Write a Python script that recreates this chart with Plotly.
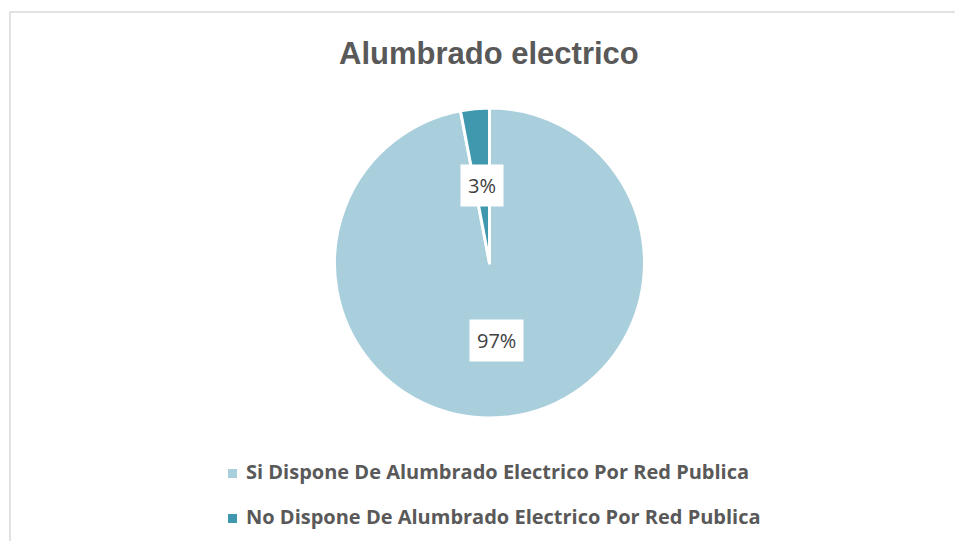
import math
import plotly.graph_objects as go

# Data
categories = [
    "Si Dispone De Alumbrado Electrico Por Red Publica",
    "No Dispone De Alumbrado Electrico Por Red Publica",
]
percentages = [97, 3]
colors = ["#a9cfdc", "#3f98ae"]
title_text = "Alumbrado electrico"

W, H = 955, 541


def px_x(px):
    return px / W


def px_y(py):
    return 1 - py / H


# Pie geometry (pixels)
cx, cy, R = 489.5, 263.0, 155.0

fig = go.Figure(
    go.Pie(
        labels=categories,
        values=percentages,
        sort=False,
        direction="clockwise",
        rotation=0,
        marker=dict(colors=colors, line=dict(color="white", width=3)),
        textinfo="none",
        hoverinfo="label+percent",
        showlegend=False,
        domain=dict(
            x=[px_x(cx - R - 10), px_x(cx + R + 10)],
            y=[px_y(cy + R), px_y(cy - R)],
        ),
    )
)

annotations = []

# Percentage labels placed at half radius along each slice's mid-angle
total = sum(percentages)
cum = 0.0
for v in percentages:
    mid = (cum + v / 2) / total * 2 * math.pi
    cum += v
    lx = cx + 0.5 * R * math.sin(mid)
    ly = cy - 0.5 * R * math.cos(mid)
    annotations.append(
        dict(
            x=px_x(lx), y=px_y(ly), xref="paper", yref="paper",
            text=f"{round(v / total * 100)}%", showarrow=False,
            font=dict(family="Open Sans", size=20, color="#404040"),
            bgcolor="white", borderpad=7,
            xanchor="center", yanchor="middle",
        )
    )

# Title
annotations.append(
    dict(
        x=px_x(489), y=px_y(53), xref="paper", yref="paper",
        text=f"<b>{title_text}</b>", showarrow=False,
        font=dict(family="Liberation Sans", size=31, color="#595959"),
        xanchor="center", yanchor="middle",
    )
)

shapes = [
    # chart frame
    dict(type="rect", xref="paper", yref="paper",
         x0=px_x(10), x1=px_x(980), y0=px_y(570), y1=px_y(12),
         line=dict(color="#d9d9d9", width=1.5), fillcolor="rgba(0,0,0,0)"),
]

# Legend entries
legend_rows = [471, 516]
for name, col, row in zip(categories, colors, legend_rows):
    shapes.append(
        dict(type="rect", xref="paper", yref="paper",
             x0=px_x(228), x1=px_x(237), y0=px_y(row + 7), y1=px_y(row - 2),
             line=dict(width=0), fillcolor=col)
    )
    annotations.append(
        dict(
            x=px_x(244), y=px_y(row), xref="paper", yref="paper",
            text=f"<b>{name}</b>", showarrow=False,
            font=dict(family="Open Sans", size=20, color="#595959"),
            xanchor="left", yanchor="middle",
        )
    )

fig.update_layout(
    width=W, height=H,
    margin=dict(l=0, r=0, t=0, b=0),
    paper_bgcolor="white",
    plot_bgcolor="white",
    annotations=annotations,
    shapes=shapes,
)

fig.write_html("out.html")
